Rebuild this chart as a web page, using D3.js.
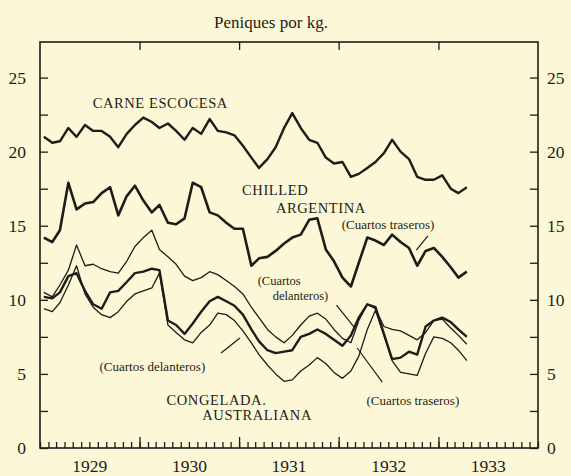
<!DOCTYPE html>
<html>
<head>
<meta charset="utf-8">
<script src="https://cdn.jsdelivr.net/npm/d3@7/dist/d3.min.js"></script>
<style>
  body { margin: 0; background: #fcf7d6; }
  svg { display: block; font-family: "Liberation Serif", serif; }
</style>
</head>
<body>
<div id="chart"></div>
<script>
// monthly prices, Jan 1929 .. Apr 1933 (peniques por kg)
const months = d3.range(52).map(i => new Date(1929, i, 15));

const carneEscocesa = [21.0, 20.6, 20.7, 21.6, 21.0, 21.8, 21.4, 21.4, 21.0, 20.3, 21.2, 21.8, 22.3, 22.0, 21.6, 21.9, 21.4, 20.8, 21.6, 21.2, 22.2, 21.4, 21.3, 21.1, 20.4, 19.6, 18.9, 19.5, 20.3, 21.6, 22.6, 21.6, 20.8, 20.6, 19.6, 19.2, 19.3, 18.3, 18.5, 18.9, 19.3, 19.9, 20.8, 20.0, 19.5, 18.3, 18.1, 18.1, 18.4, 17.5, 17.2, 17.6];
const chilledTraseros = [14.2, 13.9, 14.7, 17.9, 16.1, 16.5, 16.6, 17.2, 17.6, 15.7, 17.0, 17.7, 16.7, 15.9, 16.4, 15.2, 15.1, 15.5, 17.9, 17.6, 15.9, 15.7, 15.2, 14.8, 14.8, 12.3, 12.8, 12.9, 13.3, 13.8, 14.2, 14.4, 15.4, 15.5, 13.4, 12.6, 11.5, 10.9, 12.5, 14.2, 14.0, 13.7, 14.4, 13.9, 13.5, 12.3, 13.3, 13.5, 12.9, 12.2, 11.5, 11.9];
const chilledDelanteros = [10.5, 10.2, 11.0, 12.0, 13.7, 12.3, 12.4, 12.1, 11.9, 11.8, 12.6, 13.6, 14.2, 14.7, 13.4, 12.9, 12.4, 11.6, 11.3, 11.5, 11.9, 11.7, 11.3, 10.9, 10.4, 9.5, 8.8, 8.0, 7.5, 7.1, 7.6, 8.3, 8.9, 9.1, 8.7, 8.0, 7.4, 7.1, 8.6, 9.7, 9.4, 8.2, 8.0, 7.9, 7.6, 7.3, 7.8, 8.6, 8.7, 8.1, 7.6, 7.0];
const congeladaTraseros = [10.2, 10.1, 10.5, 11.6, 11.8, 10.6, 9.7, 9.4, 10.5, 10.6, 11.2, 11.8, 11.9, 12.1, 12.0, 8.6, 8.3, 7.7, 8.4, 9.2, 9.9, 10.2, 9.9, 9.6, 9.0, 8.0, 7.2, 6.6, 6.4, 6.5, 6.6, 7.5, 7.7, 8.0, 7.7, 7.3, 6.9, 7.6, 8.8, 9.7, 9.5, 7.7, 6.0, 6.1, 6.5, 6.3, 8.2, 8.6, 8.8, 8.5, 8.0, 7.5];
const congeladaDelanteros = [9.4, 9.2, 9.8, 11.0, 12.3, 10.4, 9.5, 9.0, 8.8, 9.2, 9.9, 10.4, 10.6, 10.8, 11.8, 8.3, 7.8, 7.3, 7.1, 7.8, 8.3, 9.1, 9.0, 8.6, 7.9, 7.1, 6.3, 5.6, 5.0, 4.5, 4.6, 5.2, 5.6, 6.1, 5.7, 5.1, 4.7, 5.2, 6.2, 8.0, 9.3, 7.6, 5.9, 5.1, 5.0, 4.9, 6.4, 7.5, 7.4, 7.1, 6.6, 5.9];

const yearLabels = [1929, 1930, 1931, 1932, 1933];
const yTicks = d3.range(0, 25.1, 2.5);

const series = [
  { values: carneEscocesa, width: 2.4 },
  { values: chilledTraseros, width: 2.6 },
  { values: chilledDelanteros, width: 1.3 },
  { values: congeladaDelanteros, width: 1.3 },
  { values: congeladaTraseros, width: 2.4 }
];

// annotations: m = months since Jan 1929, v = price
const labels = [
  { text: "CARNE ESCOCESA", m: 6.4, v: 22.94, size: 14.5, caps: true },
  { text: "CHILLED", m: 24.4, v: 17.07, size: 14.5, caps: true },
  { text: "ARGENTINA", m: 28.5, v: 15.86, size: 14.5, caps: true },
  { text: "(Cuartos traseros)", m: 36.4, v: 14.78, size: 13 },
  { text: "(Cuartos", m: 26.3, v: 11.0, size: 12.5 },
  { text: "delanteros)", m: 28.1, v: 10.02, size: 12.5 },
  { text: "(Cuartos delanteros)", m: 7.2, v: 5.2, size: 13 },
  { text: "CONGELADA.", m: 15.3, v: 2.9, size: 14.5, caps: true },
  { text: "AUSTRALIANA", m: 19.6, v: 1.89, size: 14.5, caps: true },
  { text: "(Cuartos traseros)", m: 39.4, v: 2.9, size: 13 }
];
const pointers = [
  [[45.4, 13.36], [46.75, 14.31]],
  [[35.8, 9.65], [37.95, 8.1]],
  [[21.9, 6.41], [24.1, 7.42]],
  [[41.3, 4.45], [38.3, 6.75]]
];

const svgW = 571, svgH = 476;
const margin = { top: 42, right: 33, bottom: 28, left: 40 };
const width = svgW - margin.left - margin.right;
const height = svgH - margin.top - margin.bottom;

const svg = d3.select("#chart").append("svg")
  .attr("width", svgW)
  .attr("height", svgH);
svg.append("rect").attr("width", svgW).attr("height", svgH).attr("fill", "#fcf7d6");
const g = svg.append("g").attr("transform", "translate(" + margin.left + "," + margin.top + ")");

const x = d3.scaleTime()
  .domain([new Date(1929, 0, 1), new Date(1934, 0, 1)])
  .range([0, width]);
const y = d3.scaleLinear().domain([0, 27.4]).range([height, 0]);
const xm = m => x(new Date(1929, Math.floor(m), 1 + (m % 1) * 30));

const ink = "#1e1c18";

svg.append("text")
  .attr("x", margin.left + width / 2 - 18)
  .attr("y", 28)
  .attr("text-anchor", "middle")
  .attr("font-size", 17)
  .attr("fill", ink)
  .text("Peniques por kg.");

// frame
g.append("rect")
  .attr("width", width)
  .attr("height", height)
  .attr("fill", "none")
  .attr("stroke", ink)
  .attr("stroke-width", 1.6);

const fmt = d => d % 5 === 0 ? d : "";
const styleAxis = sel => {
  sel.select(".domain").remove();
  sel.selectAll("line").attr("stroke", ink).attr("stroke-width", 1.3);
  sel.selectAll("text").attr("fill", ink).attr("font-size", 17.5).attr("font-family", "Liberation Serif, serif");
};

g.append("g")
  .call(d3.axisLeft(y).tickValues(yTicks).tickSize(-8).tickPadding(14).tickFormat(fmt))
  .call(styleAxis);
g.append("g")
  .attr("transform", "translate(" + width + ",0)")
  .call(d3.axisRight(y).tickValues(yTicks).tickSize(-8).tickPadding(9).tickFormat(fmt))
  .call(styleAxis);

// month ticks and year ticks along the bottom
g.append("g")
  .attr("transform", "translate(0," + height + ")")
  .call(d3.axisBottom(x).ticks(d3.timeMonth.every(1)).tickSize(-6).tickFormat(""))
  .call(styleAxis);
g.append("g")
  .attr("transform", "translate(0," + height + ")")
  .call(d3.axisBottom(x).tickValues(d3.range(1930, 1934).map(yr => new Date(yr, 0, 1))).tickSize(-11).tickFormat(""))
  .call(styleAxis);
g.append("g")
  .attr("transform", "translate(0," + height + ")")
  .call(d3.axisBottom(x).tickValues(yearLabels.map(yr => new Date(yr, 6, 1))).tickSize(0).tickPadding(12).tickFormat(d3.timeFormat("%Y")))
  .call(styleAxis);
g.append("g")
  .call(d3.axisTop(x).tickValues(d3.range(1930, 1934).map(yr => new Date(yr, 0, 1))).tickSize(-8).tickFormat(""))
  .call(styleAxis);

const line = d3.line()
  .x((d, i) => x(months[i]))
  .y(d => y(d));

g.selectAll("path.serie")
  .data(series)
  .enter()
  .append("path")
    .attr("class", "serie")
    .attr("fill", "none")
    .attr("stroke", ink)
    .attr("stroke-linejoin", "round")
    .attr("stroke-width", d => d.width)
    .attr("d", d => line(d.values));

g.selectAll("line.pointer")
  .data(pointers)
  .enter()
  .append("line")
    .attr("class", "pointer")
    .attr("x1", d => xm(d[0][0]))
    .attr("y1", d => y(d[0][1]))
    .attr("x2", d => xm(d[1][0]))
    .attr("y2", d => y(d[1][1]))
    .attr("stroke", ink)
    .attr("stroke-width", 1.2);

g.selectAll("text.label")
  .data(labels)
  .enter()
  .append("text")
    .attr("class", "label")
    .attr("x", d => xm(d.m))
    .attr("y", d => y(d.v))
    .attr("font-size", d => d.size)
    .attr("letter-spacing", d => d.caps ? 0.6 : 0)
    .attr("fill", ink)
    .text(d => d.text);
</script>
</body>
</html>
